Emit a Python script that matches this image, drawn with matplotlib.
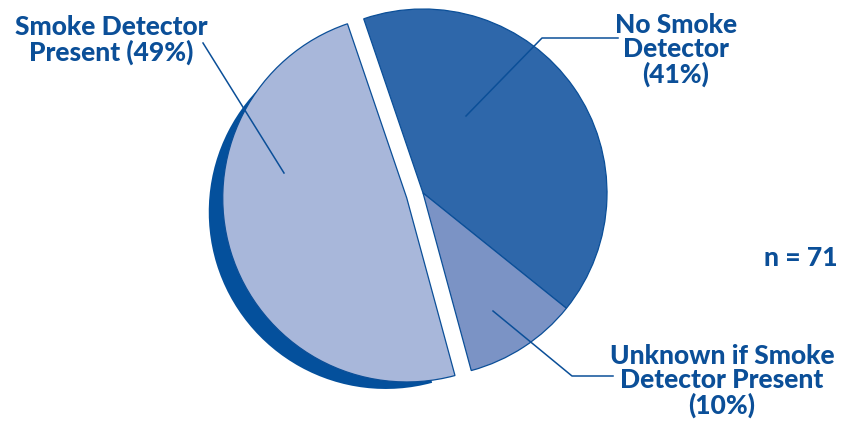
import matplotlib
matplotlib.use("Agg")
import matplotlib.pyplot as plt

# Smoke detector status among cases (n = 71)
labels = ["No Smoke\nDetector\n(41%)",
          "Unknown if Smoke\nDetector Present\n(10%)",
          "Smoke Detector\nPresent (49%)"]
shares = [41, 10, 49]
colors = ["#2e67aa", "#7b93c5", "#a8b7da"]
explode = [0, 0, 17]
n_total = 71

TEXT = "#0b4f98"
EDGE = "#0b4f98"
SHADOW = "#04509c"

plt.rcParams['font.family'] = ['Lato', 'DejaVu Sans']

fig = plt.figure(figsize=(8.45, 4.25), dpi=100)
ax = fig.add_axes([0, 0, 1, 1])

cx, cy, r = 423, 232, 184

# drop shadow behind the pulled-out slice (smaller, shifted down-left)
ax.pie(shares, colors=["none", "none", SHADOW], explode=explode,
       startangle=108.8, counterclock=False, radius=r - 7,
       center=(cx - 21, cy - 14), frame=True,
       wedgeprops=dict(linewidth=0))

ax.pie(shares, colors=colors, explode=explode,
       startangle=108.8, counterclock=False, radius=r,
       center=(cx, cy), frame=True,
       wedgeprops=dict(edgecolor=EDGE, linewidth=0.9))
ax.set_xlim(0, 845)
ax.set_ylim(0, 425)
ax.set_aspect("equal")
ax.axis("off")

# leader lines
ax.plot([466, 542, 618], [425 - 116, 425 - 38, 425 - 38], color=EDGE, lw=1.1)
ax.plot([493, 572, 613], [425 - 311, 425 - 376, 425 - 376], color=EDGE, lw=1.1)
ax.plot([284, 203], [425 - 173, 425 - 43], color=EDGE, lw=1.1)

font = dict(color=TEXT, fontsize=19, fontweight="black", ha="center",
            va="center", linespacing=1.0)
ax.text(676, 425 - 50, labels[0], **font)
ax.text(722, 425 - 381, labels[1], **font)
ax.text(111, 425 - 40, labels[2], **font)
ax.text(838, 425 - 258, f"n = {n_total}", color=TEXT, fontsize=19,
        fontweight="black", ha="right", va="center")

fig.savefig("out.png", dpi=100)
